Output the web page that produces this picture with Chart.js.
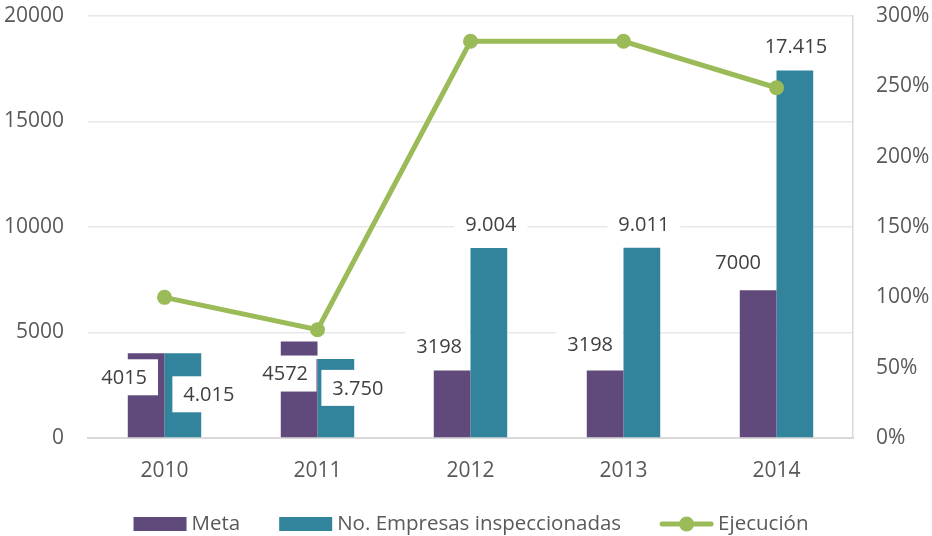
<!DOCTYPE html>
<html>
<head>
<meta charset="utf-8">
<script src="https://cdn.jsdelivr.net/npm/chart.js@4"></script>
<style>
  html,body{margin:0;padding:0;background:#fff;}
  #wrap{width:932px;height:536px;}
</style>
</head>
<body>
<div id="wrap"><canvas id="c" width="932" height="536"></canvas></div>
<script>
// ---- data ----
const years = ['2010', '2011', '2012', '2013', '2014'];
const meta = [4015, 4572, 3198, 3198, 7000];
const empresas = [4015, 3750, 9004, 9011, 17415];
const ejecucion = [100, 77, 282, 282, 249]; // percent
const leftTicks = [0, 5000, 10000, 15000, 20000];
const rightTicks = [0, 50, 100, 150, 200, 250, 300];

// ---- label placement (pixel offsets from bar top centre) ----
const labelOffsets = [
  [[-22, 24], [-14, 32], [-13, -24], [-15, -26], [-20, -28]],
  [[26, 41], [22, 29], [2, -24], [2, -24], [1, -24]]
];
const fmtDot = n => String(n).replace(/\B(?=(\d{3})+(?!\d))/g, '.');
const labelFormats = [n => String(n), fmtDot];

const FONT = "'Open Sans', sans-serif";
const TEXT = '#595959';
const GREEN = '#9bbb59';

const labelPlugin = {
  id: 'barLabels',
  afterDatasetsDraw(chart) {
    const ctx = chart.ctx;
    const teal = chart.getDatasetMeta(1).data;
    [0, 1].forEach(di => {
      ctx.save();
      if (di === 0) {
        // keep the second series' bars on top of the first series' label boxes
        ctx.beginPath();
        ctx.rect(0, 0, chart.width, chart.height);
        teal.forEach(b => {
          const p = b.getProps(['x', 'y', 'base', 'width'], true);
          ctx.rect(p.x - p.width / 2 - 1, p.y, p.width + 2, p.base - p.y);
        });
        ctx.clip('evenodd');
      }
      ctx.font = "20px " + FONT;
      ctx.textAlign = 'center';
      ctx.textBaseline = 'middle';
      const m = chart.getDatasetMeta(di);
      const vals = chart.data.datasets[di].data;
      m.data.forEach((el, i) => {
        const txt = labelFormats[di](vals[i]);
        const [dx, dy] = labelOffsets[di][i];
        const cx = el.x + dx, cy = el.y + dy;
        const w = ctx.measureText(txt).width;
        ctx.fillStyle = '#ffffff';
        ctx.fillRect(cx - w / 2 - 11, cy - 18, w + 22, 36);
        ctx.fillStyle = '#404040';
        ctx.fillText(txt, cx, cy + 1);
      });
      ctx.restore();
    });
  }
};

const legendPlugin = {
  id: 'customLegend',
  afterDraw(chart) {
    const ctx = chart.ctx;
    const ds = chart.data.datasets;
    ctx.save();
    ctx.font = "20.5px " + FONT;
    ctx.textBaseline = 'middle';
    ctx.textAlign = 'left';
    const symW = 53, gap = 5, itemGap = 39;
    const widths = ds.map(d => symW + gap + ctx.measureText(d.label).width);
    const total = widths.reduce((a, b) => a + b, 0) + itemGap * (ds.length - 1);
    let x = 471 - total / 2;
    const cy = 524;
    ds.forEach((d, i) => {
      if (d.type === 'line') {
        ctx.strokeStyle = GREEN; ctx.lineWidth = 5; ctx.lineCap = 'round';
        ctx.beginPath(); ctx.moveTo(x + 2, cy); ctx.lineTo(x + symW - 2, cy); ctx.stroke();
        ctx.fillStyle = GREEN; ctx.beginPath(); ctx.arc(x + symW / 2, cy, 7.5, 0, Math.PI * 2); ctx.fill();
      } else {
        ctx.fillStyle = d.backgroundColor;
        ctx.fillRect(x, cy - 7, symW, 14);
      }
      ctx.fillStyle = TEXT;
      ctx.fillText(d.label, x + symW + gap, cy);
      x += widths[i] + itemGap;
    });
    ctx.restore();
  }
};

new Chart(document.getElementById('c'), {
  data: {
    labels: years,
    datasets: [
      { type: 'bar', label: 'Meta', data: meta, backgroundColor: '#604a7b', yAxisID: 'y', order: 2,
        barPercentage: 1, categoryPercentage: 0.48 },
      { type: 'bar', label: 'No. Empresas inspeccionadas', data: empresas, backgroundColor: '#31849b', yAxisID: 'y', order: 2,
        barPercentage: 1, categoryPercentage: 0.48 },
      { type: 'line', label: 'Ejecución', data: ejecucion, borderColor: GREEN, backgroundColor: GREEN,
        borderWidth: 5, pointRadius: 7.5, pointHoverRadius: 7.5, pointBackgroundColor: GREEN, pointBorderWidth: 0,
        yAxisID: 'y1', order: 0, tension: 0 }
    ]
  },
  options: {
    responsive: false,
    animation: false,
    layout: { autoPadding: false, padding: { top: 16, bottom: 56, left: 0, right: 0 } },
    plugins: {
      tooltip: { enabled: false },
      legend: { display: false }
    },
    scales: {
      x: {
        grid: { display: false },
        afterFit: s => { s.height = 42; },
        border: { display: true, color: '#d9d9d9', width: 2 },
        ticks: { font: { family: FONT, size: 21 }, color: TEXT, padding: 12 }
      },
      y: {
        position: 'left',
        min: 0, max: 20000,
        afterBuildTicks: s => { s.ticks = leftTicks.map(v => ({ value: v })); },
        afterFit: s => { s.width = 88; },
        grid: { color: '#e8e8e8', lineWidth: 1.5, drawTicks: true, tickLength: 24, tickColor: 'rgba(0,0,0,0)' },
        border: { display: false },
        ticks: { font: { family: FONT, size: 21 }, color: TEXT, padding: 0, callback: v => String(v) }
      },
      y1: {
        position: 'right',
        min: 0, max: 300,
        afterBuildTicks: s => { s.ticks = rightTicks.map(v => ({ value: v })); },
        afterFit: s => { s.width = 79; },
        grid: { display: true, drawOnChartArea: false, drawTicks: true, tickLength: 23, tickColor: 'rgba(0,0,0,0)' },
        border: { display: true, color: '#d9d9d9', width: 1.5 },
        ticks: { font: { family: FONT, size: 21 }, color: TEXT, padding: 0, callback: v => v + '%' }
      }
    }
  },
  plugins: [labelPlugin, legendPlugin]
});
</script>
</body>
</html>
